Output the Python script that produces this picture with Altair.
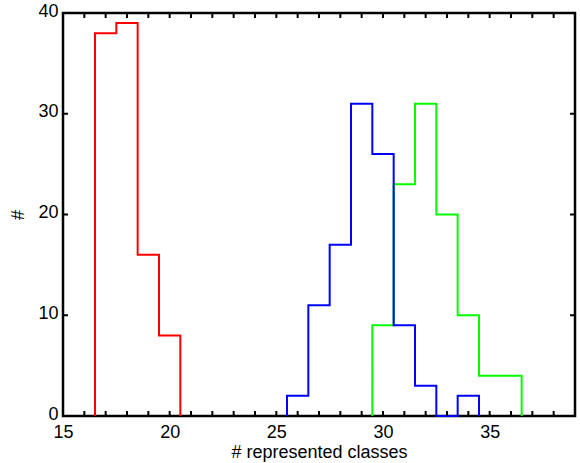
import altair as alt
import pandas as pd

# Histogram data (bin centres on integers, bin width 1)
red_centers = [17, 18, 19, 20]
red_counts = [38, 39, 16, 8]
green_centers = [30, 31, 32, 33, 34, 35, 36]
green_counts = [9, 23, 31, 20, 10, 4, 4]
blue_centers = [26, 27, 28, 29, 30, 31, 32, 33, 34]
blue_counts = [2, 11, 17, 31, 26, 9, 3, 0, 2]

x_label_values = [15, 20, 25, 30, 35]
x_tick_values = list(range(15, 39))
y_tick_values = [0, 10, 20, 30, 40]

W, H = 512, 403


def step_rows(centers, counts, name):
    rows = [{"x": centers[0] - 0.5, "y": 0, "s": name, "o": 0}]
    for i, (c, n) in enumerate(zip(centers, counts)):
        rows.append({"x": c - 0.5, "y": n, "s": name, "o": i + 1})
    rows.append({"x": centers[-1] + 0.5, "y": 0, "s": name, "o": len(centers) + 1})
    return rows


xs = alt.Scale(domain=[15, 39], nice=False, zero=False)
ys = alt.Scale(domain=[0, 40], nice=False)

font = "Liberation Sans"

x_axis = alt.Axis(
    values=x_label_values, title="# represented classes", grid=False, ticks=False,
    domain=False, labelFontSize=18, labelFont=font, labelPadding=7,
    titleFont=font, titleFontSize=18, titleFontWeight="normal", titlePadding=2,
    labelColor="black", titleColor="black", labelFlush=False)
y_axis = alt.Axis(
    values=y_tick_values, title="#", grid=False, ticks=False, domain=False,
    labelFontSize=18, labelFont=font, labelPadding=5, labelOffset=-2,
    titleFont=font, titleFontSize=18, titleFontWeight="normal", titlePadding=10,
    labelColor="black", titleColor="black", labelFlush=False)


def hist(centers, counts, name, color):
    df = pd.DataFrame(step_rows(centers, counts, name))
    return alt.Chart(df).mark_line(interpolate="step-after", color=color, strokeWidth=2).encode(
        x=alt.X("x:Q", scale=xs, axis=x_axis),
        y=alt.Y("y:Q", scale=ys, axis=y_axis),
        order="o:Q",
    )


red = hist(red_centers, red_counts, "red", "#ff0000")
green = hist(green_centers, green_counts, "green", "#00ff00")
blue = hist(blue_centers, blue_counts, "blue", "#0000ff")

xt = pd.DataFrame({"x": x_tick_values})
yt = pd.DataFrame({"y": y_tick_values})

tick_style = dict(color="black", strokeWidth=2)
bottom_ticks = alt.Chart(xt).mark_rule(**tick_style).encode(
    x=alt.X("x:Q", scale=xs, axis=x_axis), y=alt.value(H), y2=alt.value(H - 5))
top_ticks = alt.Chart(xt).mark_rule(**tick_style).encode(
    x=alt.X("x:Q", scale=xs, axis=x_axis), y=alt.value(0), y2=alt.value(5))
left_ticks = alt.Chart(yt).mark_rule(**tick_style).encode(
    y=alt.Y("y:Q", scale=ys, axis=y_axis), x=alt.value(0), x2=alt.value(5))
right_ticks = alt.Chart(yt).mark_rule(**tick_style).encode(
    y=alt.Y("y:Q", scale=ys, axis=y_axis), x=alt.value(W), x2=alt.value(W - 5))

chart = alt.layer(red, green, blue, bottom_ticks, top_ticks, left_ticks, right_ticks).properties(
    width=W, height=H,
    background="white",
    autosize=alt.AutoSizeParams(type="none"),
    padding={"left": 63, "top": 13, "right": 5, "bottom": 47},
).configure_view(stroke="black", strokeWidth=2.5)

chart.save("out.html", embed_options={"renderer": "svg", "actions": False})
